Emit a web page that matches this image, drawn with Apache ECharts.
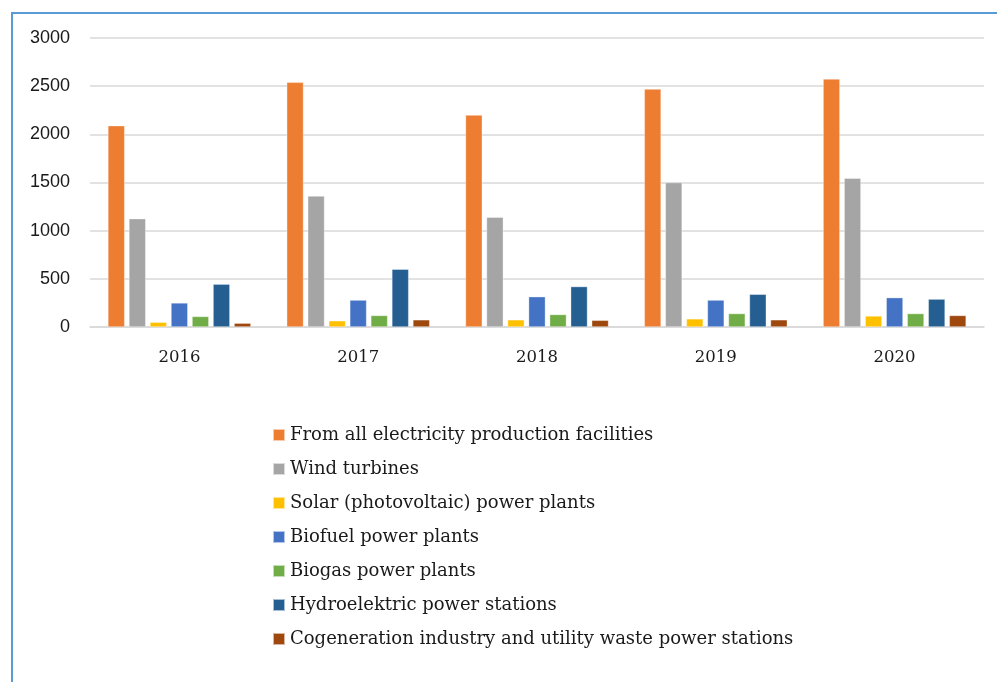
<!DOCTYPE html>
<html>
<head>
<meta charset="utf-8">
<script src="https://cdn.jsdelivr.net/npm/echarts@6/dist/echarts.min.js"></script>
<style>
html,body{margin:0;padding:0;background:#fff;}
#chart{width:997px;height:682px;}
</style>
</head>
<body>
<div id="chart"></div>
<script>
const years = ['2016', '2017', '2018', '2019', '2020'];
const seriesNames = [
  'From all electricity production facilities',
  'Wind turbines',
  'Solar (photovoltaic) power plants',
  'Biofuel power plants',
  'Biogas power plants',
  'Hydroelektric power stations',
  'Cogeneration industry and utility waste power stations'
];
const allFacilities = [2090, 2540, 2200, 2470, 2575];
const windTurbines = [1125, 1360, 1140, 1500, 1545];
const solarPlants = [50, 65, 75, 85, 115];
const biofuelPlants = [250, 280, 315, 280, 305];
const biogasPlants = [110, 120, 130, 140, 140];
const hydroStations = [445, 600, 420, 340, 290];
const cogenerationStations = [40, 75, 70, 75, 120];
const yTicks = [0, 500, 1000, 1500, 2000, 2500, 3000];
const colors = ['#ED7D31', '#A5A5A5', '#FFC000', '#4472C4', '#70AD47', '#255E91', '#9E480E'];

const values = [allFacilities, windTurbines, solarPlants, biofuelPlants, biogasPlants, hydroStations, cogenerationStations];

const chart = echarts.init(document.getElementById('chart'));
chart.setOption({
  animation: false,
  color: colors,
  graphic: [{
    type: 'rect',
    shape: { x: 12, y: 13, width: 1100, height: 800 },
    style: { fill: 'none', stroke: '#5B9BD5', lineWidth: 2 },
    silent: true
  }],
  grid: { left: 90, right: 13, top: 38, bottom: 355, containLabel: false },
  xAxis: {
    type: 'category',
    data: years,
    axisLine: { show: true, lineStyle: { color: '#d9d9d9', width: 1.5 } },
    axisTick: { show: false },
    axisLabel: { fontFamily: 'DejaVu Serif', fontSize: 16.5, color: '#1a1a1a', margin: 22 }
  },
  yAxis: {
    type: 'value',
    min: yTicks[0],
    max: yTicks[yTicks.length - 1],
    interval: 500,
    axisLine: { show: false },
    axisTick: { show: false },
    splitLine: { lineStyle: { color: '#d9d9d9', width: 1.5 } },
    axisLabel: {
      fontFamily: 'Liberation Sans', fontSize: 18, color: '#1a1a1a', margin: 20,
      formatter: v => String(v)
    }
  },
  legend: {
    orient: 'vertical',
    left: 267,
    top: 420,
    icon: 'rect',
    itemWidth: 12,
    itemHeight: 12,
    itemGap: 14,
    textStyle: { fontFamily: 'DejaVu Serif', fontSize: 18, color: '#1a1a1a', lineHeight: 20 },
    data: seriesNames
  },
  series: seriesNames.map((name, i) => ({
    name: name,
    type: 'bar',
    data: values[i],
    barCategoryGap: '20%',
    barGap: '25%',
    itemStyle: { color: colors[i], borderColor: 'rgba(255,255,255,0.6)', borderWidth: 0.6 }
  }))
});
</script>
</body>
</html>
